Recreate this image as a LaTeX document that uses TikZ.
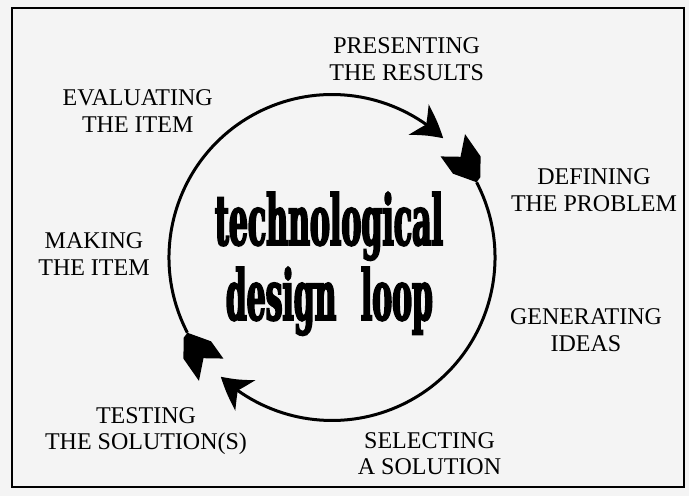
\documentclass[tikz,border=0pt]{standalone}
\usepackage{fontspec}
\setmainfont{Liberation Serif}
\newfontfamily\loopfont{DejaVu Serif}[FakeStretch=0.45,FakeBold=2.5]
\usetikzlibrary{arrows.meta,bending}
\definecolor{paper}{HTML}{F4F4F4}
\begin{document}
\begin{tikzpicture}[x=1pt,y=1pt,
  stagelabel/.style={font=\fontsize{24}{26.7}\selectfont, align=center, anchor=base, inner sep=0pt},
  loopline/.style={line width=3pt},
  headtip/.style={-{Stealth[length=31pt,width=36pt,inset=9pt,bend]}},
  fletch/.pic={\fill (0,0) -- (-2.6,5.5) -- (-21,15.5) -- (-48,12) -- (-30,-2.5) -- (-39.5,-20) -- (-18.5,-17) -- cycle;},
  bigword/.style={inner sep=0pt, anchor=base, font=\loopfont\bfseries\fontsize{70}{80}\selectfont}]
\useasboundingbox (0,0) rectangle (689,496);
\fill[paper] (0,0) rectangle (689,496);
\draw[line width=2pt] (12,9) rectangle (684,488);

% centre of the loop and the two tail points
\coordinate (C) at (332,238.5);
\coordinate (tailA) at ([shift={(207.5:163pt)}]C);
\coordinate (tailB) at ([shift={(27.5:163pt)}]C);

% the two arrows of the loop, running clockwise
\draw[loopline, headtip] (tailA) arc[start angle=207.5, end angle=47, radius=163pt];
\draw[loopline, headtip] (tailB) arc[start angle=27.5, end angle=-133, radius=163pt];
\pic[rotate=117.5] at (tailA) {fletch};
\pic[rotate=-62.5] at (tailB) {fletch};

% title in the middle
\node[bigword] (title1) at (329,251) {\resizebox{228pt}{53pt}{technological}};
\node[bigword] (title2) at (329.4,176) {\resizebox{207pt}{53pt}{design\hspace{26pt}loop}};

% stages around the loop (anchored on the baseline of the second line)
\node[stagelabel] (present) at (406.7,415.6) {PRESENTING\\THE RESULTS};
\node[stagelabel] (evaluate) at (137.7,363.3) {EVALUATING\\THE ITEM};
\node[stagelabel] (define) at (594,284.8) {DEFINING\\THE PROBLEM};
\node[stagelabel] (make) at (94,220.6) {MAKING\\THE ITEM};
\node[stagelabel] (generate) at (586,144.8) {GENERATING\\IDEAS};
\node[stagelabel] (test) at (146,46) {TESTING\\THE SOLUTION(S)};
\node[stagelabel] (select) at (429.5,21.1) {SELECTING\\A SOLUTION};
\end{tikzpicture}
\end{document}
